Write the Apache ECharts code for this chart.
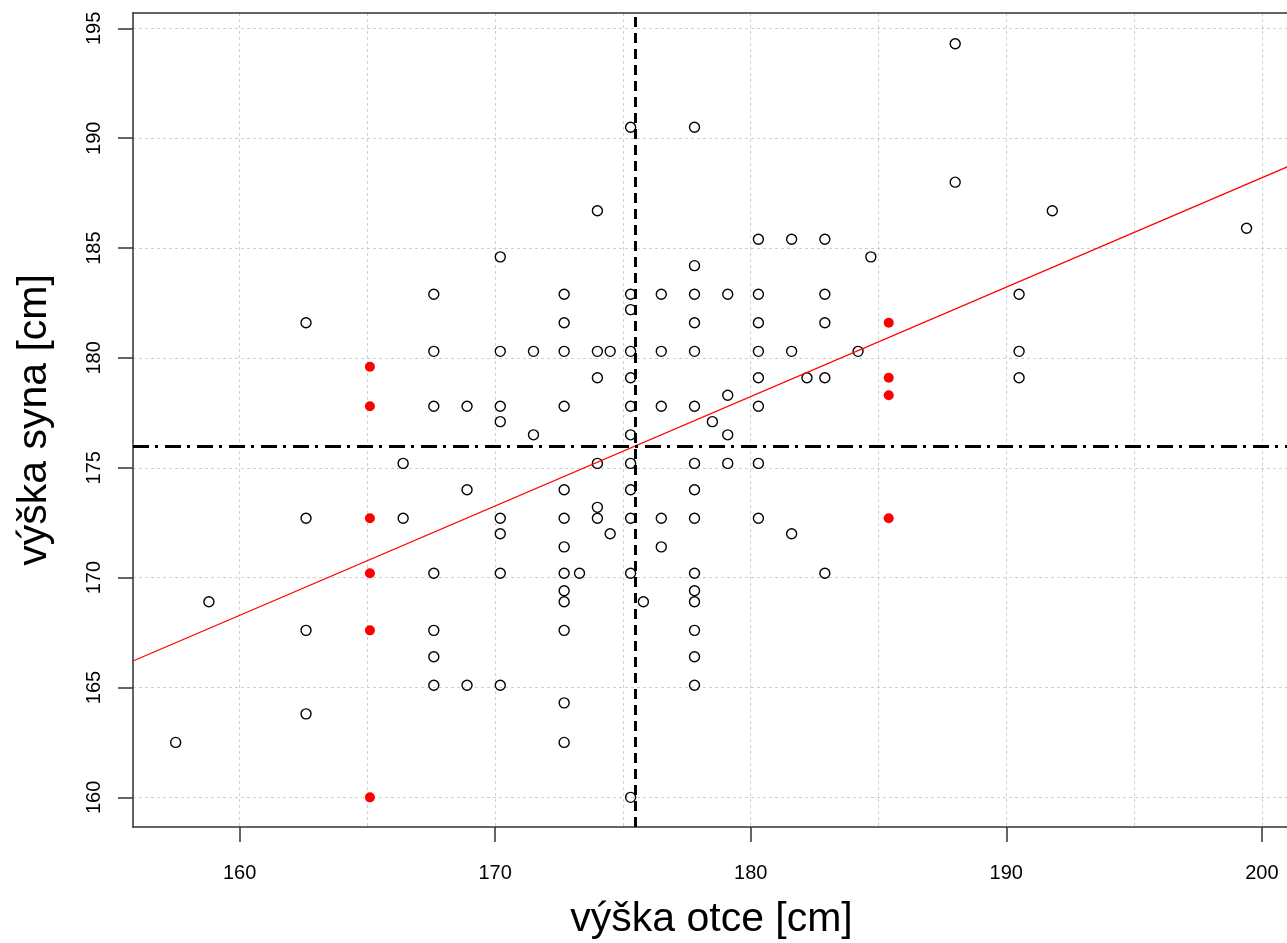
<!DOCTYPE html>
<html><head><meta charset="utf-8">
<script src="https://cdn.jsdelivr.net/npm/echarts@6/dist/echarts.min.js"></script>
<style>html,body{margin:0;padding:0;background:#fff}#chart{width:1287px;height:943px}</style>
</head><body><div id="chart"></div>
<script>
// ---- data ----
const fatherOpen = [170.2,167.6,175.3,177.8,174.0,180.3,181.6,182.9,184.7,177.8,
  172.7,175.3,176.5,177.8,179.1,180.3,182.9,188.0,188.0,191.8,199.4,190.5,
  162.6,167.6,170.2,167.6,168.9,170.2,170.2,166.4,168.9,162.6,166.4,170.2,170.2,
  175.3,172.7,177.8,180.3,182.9,
  171.5,172.7,174.0,174.5,175.3,176.5,177.8,180.3,181.6,184.2,
  174.0,175.3,180.3,182.2,182.9,179.1,
  172.7,175.3,176.5,177.8,180.3,178.5,
  171.5,175.3,179.1,
  174.0,175.3,177.8,179.1,180.3,
  172.7,175.3,177.8,174.0,
  172.7,174.0,175.3,176.5,177.8,180.3,
  174.5,181.6,172.7,176.5,190.5,190.5,
  158.8,162.6,167.6,170.2,167.6,167.6,167.6,168.9,170.2,162.6,157.5,
  172.7,173.3,175.3,177.8,182.9,172.7,177.8,172.7,175.8,177.8,172.7,177.8,
  177.8,177.8,172.7,172.7,175.3];
const sonOpen = [184.6,182.9,190.5,190.5,186.7,185.4,185.4,185.4,184.6,184.2,
  182.9,182.9,182.9,182.9,182.9,182.9,182.9,194.3,188.0,186.7,185.9,182.9,
  181.6,180.3,180.3,177.8,177.8,177.8,177.1,175.2,174.0,172.7,172.7,172.7,172.0,
  182.2,181.6,181.6,181.6,181.6,
  180.3,180.3,180.3,180.3,180.3,180.3,180.3,180.3,180.3,180.3,
  179.1,179.1,179.1,179.1,179.1,178.3,
  177.8,177.8,177.8,177.8,177.8,177.1,
  176.5,176.5,176.5,
  175.2,175.2,175.2,175.2,175.2,
  174.0,174.0,174.0,173.2,
  172.7,172.7,172.7,172.7,172.7,172.7,
  172.0,172.0,171.4,171.4,180.3,179.1,
  168.9,167.6,170.2,170.2,167.6,166.4,165.1,165.1,165.1,163.8,162.5,
  170.2,170.2,170.2,170.2,170.2,169.4,169.4,168.9,168.9,168.9,167.6,167.6,
  166.4,165.1,164.3,162.5,160.0];
const fatherRed = [165.1,165.1,165.1,165.1,165.1,165.1,185.4,185.4,185.4,185.4];
const sonRed    = [179.6,177.8,172.7,170.2,167.6,160.0,181.6,179.1,178.3,172.7];
const meanFather = 175.5;
const meanSon = 176.0;
const fitLine = [88.6, 0.498];          // intercept, slope of the red line
const xRange = [155.83, 201.1];
const yRange = [158.65, 195.70];
const xTicks = [160,170,180,190,200];
const yTicks = [160,165,170,175,180,185,190,195];
const xTitle = 'výška otce [cm]';
const yTitle = 'výška syna [cm]';

const FONT = "'Liberation Sans', Arial, sans-serif";
const openPts = fatherOpen.map((f,i)=>[f, sonOpen[i]]);
const redPts = fatherRed.map((f,i)=>[f, sonRed[i]]);
const fitPts = xRange.map(x=>[x, fitLine[0] + fitLine[1]*x]);

const boxLine = {color:'#333', width:1.5};
const gridLine = {show:true, lineStyle:{color:'#d0d0d0', type:[3,3], width:1}};

const chart = echarts.init(document.getElementById('chart'), null, {renderer:'canvas'});
chart.setOption({
  animation:false,
  backgroundColor:'#fff',
  grid:{left:133, top:13, width:1157, height:814, containLabel:false, outerBoundsMode:'none'},
  xAxis:[
    {type:'value', position:'top', min:xRange[0], max:xRange[1], minInterval:5, maxInterval:5,
     axisLine:{show:true, onZero:false, lineStyle:boxLine}, axisTick:{show:false}, axisLabel:{show:false},
     splitLine:gridLine},
    {type:'value', position:'bottom', min:xRange[0], max:xRange[1], minInterval:10, maxInterval:10,
     axisLine:{show:true, onZero:false, lineStyle:boxLine},
     axisTick:{show:true, inside:false, length:15, customValues:xTicks, lineStyle:boxLine},
     axisLabel:{show:true, customValues:xTicks, margin:36, fontSize:20, color:'#000', fontFamily:FONT},
     splitLine:{show:false},
     name:xTitle, nameLocation:'middle', nameGap:72,
     nameTextStyle:{fontSize:41, color:'#000', fontFamily:FONT}}
  ],
  yAxis:[
    {type:'value', min:yRange[0], max:yRange[1], minInterval:5, maxInterval:5,
     axisLine:{show:true, onZero:false, lineStyle:boxLine},
     axisTick:{show:true, inside:false, length:15, customValues:yTicks, lineStyle:boxLine},
     axisLabel:{show:true, customValues:yTicks, rotate:90, margin:29, fontSize:20, color:'#000', fontFamily:FONT},
     splitLine:gridLine,
     name:yTitle, nameLocation:'middle', nameGap:78, nameRotate:90,
     nameTextStyle:{fontSize:41, color:'#000', fontFamily:FONT}}
  ],
  series:[
    {type:'scatter', xAxisIndex:1, data:openPts, symbol:'circle', symbolSize:10, z:2,
     itemStyle:{color:'rgba(0,0,0,0)', borderColor:'#000', borderWidth:1.4, opacity:1}},
    {type:'scatter', xAxisIndex:1, data:redPts, symbol:'circle', symbolSize:10, z:2,
     itemStyle:{color:'#ff0000', opacity:1}},
    {type:'line', xAxisIndex:1, data:fitPts, showSymbol:false, clip:true, z:3,
     lineStyle:{color:'#ff0000', width:1.2},
     markLine:{silent:true, symbol:['none','none'], label:{show:false}, animation:false,
       data:[
         {xAxis:meanFather, lineStyle:{color:'#000', width:3, type:[10,6]}},
         {yAxis:meanSon, lineStyle:{color:'#000', width:3, type:[16,6,3,7]}}
       ]}}
  ]
});
</script></body></html>
